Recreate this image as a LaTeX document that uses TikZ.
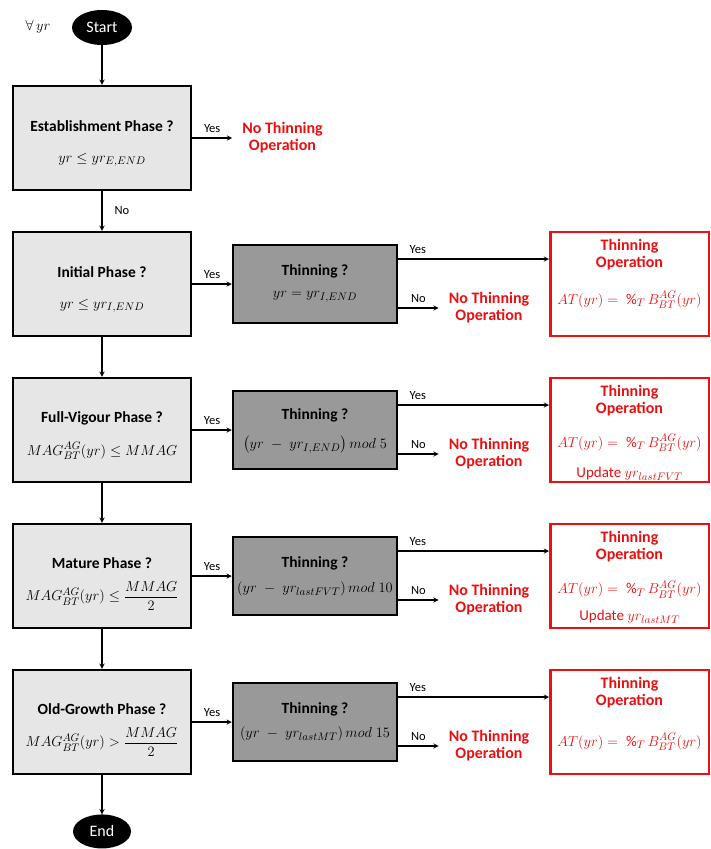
\documentclass[tikz,border=0pt]{standalone}
\usepackage{fontspec}
\setmainfont{Carlito}
\usepackage{amsmath}
\usepackage{tikz}
\usetikzlibrary{shapes.geometric, arrows, positioning, calc}

\definecolor{opred}{RGB}{232,16,16}
\definecolor{phasegray}{RGB}{231,230,230}
\definecolor{thingray}{RGB}{153,153,153}

\begin{document}
\begin{tikzpicture}[
        x=1pt, y=-1pt,
        node distance=39.5pt and 39.5pt,
        phase/.style={rectangle, draw, line width=2.5pt, fill=phasegray, minimum width=178pt, minimum height=104pt, inner sep=0pt},
        thin/.style={rectangle, draw, line width=2.5pt, fill=thingray, minimum width=164pt, minimum height=78pt, inner sep=0pt},
        oper/.style={rectangle, draw=opred, line width=2.5pt, fill=white, minimum width=158.5pt, minimum height=104pt, inner sep=0pt},
        term/.style={ellipse, fill=black, text=white, minimum width=60pt, minimum height=35pt, inner sep=0pt, font=\fontsize{16}{18}\selectfont},
        ttl/.style={font=\fontsize{15.5}{17}\selectfont\bfseries, inner sep=1pt},
        frm/.style={font=\fontsize{15}{17}\selectfont, inner sep=1pt},
        redttl/.style={font=\fontsize{16}{17}\selectfont\bfseries, text=opred, align=center, inner sep=1pt},
        redfrm/.style={frm, text=opred},
        notext/.style={font=\fontsize{16}{17}\selectfont\bfseries, text=opred, align=center, inner xsep=10pt, inner ysep=1pt},
        arrow/.style={->, line width=1.3pt, >=stealth},
        lbl/.style={font=\fontsize{12.5}{14}\selectfont, inner sep=1pt}
    ]
        \useasboundingbox (0,0) rectangle (710,849);

        % Start
        \node[term] (start) at (102,27.5) {Start};
        \node[frm] (forall) at (38,27) {$\forall\, yr$};

        % Column 1: phases
        \node[phase] (est) at (102,138) {};
        \node[phase, below=of est] (init) {};
        \node[phase, below=of init] (fv) {};
        \node[phase, below=of fv] (mat) {};
        \node[phase, below=of mat] (old) {};
        \node[term, below=39pt of old, minimum width=58pt, minimum height=34pt] (end) {End};

        \node[ttl] (est-q) at ($(est.center)+(0,-12)$) {Establishment Phase ?};
        \node[frm] (est-c) at ($(est.center)+(0,22)$) {$yr \le yr_{E,END}$};
        \node[ttl] (init-q) at ($(init.center)+(0,-12)$) {Initial Phase ?};
        \node[frm] (init-c) at ($(init.center)+(0,22)$) {$yr \le yr_{I,END}$};
        \node[ttl] (fv-q) at ($(fv.center)+(0,-12)$) {Full-Vigour Phase ?};
        \node[frm] (fv-c) at ($(fv.center)+(0,21)$) {$MAG^{AG}_{BT}(yr) \le MMAG$};
        \node[ttl] (mat-q) at ($(mat.center)+(0,-13)$) {Mature Phase ?};
        \node[frm] (mat-c) at ($(mat.center)+(0,20)$) {$MAG^{AG}_{BT}(yr) \le \dfrac{MMAG}{2}$};
        \node[ttl] (old-q) at ($(old.center)+(0,-13)$) {Old-Growth Phase ?};
        \node[frm] (old-c) at ($(old.center)+(0,20)$) {$MAG^{AG}_{BT}(yr) > \dfrac{MMAG}{2}$};

        % Column 2: thinning tests
        \node[thin, right=of init] (thin2) {};
        \node[thin, right=of fv] (thin3) {};
        \node[thin, right=of mat] (thin4) {};
        \node[thin, right=of old] (thin5) {};

        \node[ttl] (thin2-q) at ($(thin2.center)+(0,-13)$) {Thinning ?};
        \node[frm] (thin2-c) at ($(thin2.center)+(0,13)$) {$yr = yr_{I,END}$};
        \node[ttl] (thin3-q) at ($(thin3.center)+(0,-15)$) {Thinning ?};
        \node[frm] (thin3-c) at ($(thin3.center)+(0,15)$) {$\bigl(yr \;-\; yr_{I,END}\bigr)\, mod\; 5$};
        \node[ttl] (thin4-q) at ($(thin4.center)+(0,-13)$) {Thinning ?};
        \node[frm] (thin4-c) at ($(thin4.center)+(0,13)$) {$(yr \;-\; yr_{lastFVT})\, mod\; 10$};
        \node[ttl] (thin5-q) at ($(thin5.center)+(0,-13)$) {Thinning ?};
        \node[frm] (thin5-c) at ($(thin5.center)+(0,12)$) {$(yr \;-\; yr_{lastMT})\, mod\; 15$};

        % Column 3: thinning operations
        \node[oper, right=150.75pt of thin2] (op2) {};
        \node[oper, right=150.75pt of thin3] (op3) {};
        \node[oper, right=150.75pt of thin4] (op4) {};
        \node[oper, right=150.75pt of thin5] (op5) {};

        \node[redttl] (op2-q) at ($(op2.center)+(0,-29.5)$) {Thinning\\Operation};
        \node[redfrm] (op2-c) at ($(op2.center)+(0,16)$) {$AT(yr) =\; \%_T\, B^{AG}_{BT}(yr)$};
        \node[redttl] (op3-q) at ($(op3.center)+(0,-29.5)$) {Thinning\\Operation};
        \node[redfrm] (op3-c) at ($(op3.center)+(0,13)$) {$AT(yr) =\; \%_T\, B^{AG}_{BT}(yr)$};
        \node[redfrm] (op3-u) at ($(op3.center)+(0,44)$) {Update $yr_{lastFVT}$};
        \node[redttl] (op4-q) at ($(op4.center)+(0,-29.5)$) {Thinning\\Operation};
        \node[redfrm] (op4-c) at ($(op4.center)+(0,13.5)$) {$AT(yr) =\; \%_T\, B^{AG}_{BT}(yr)$};
        \node[redfrm] (op4-u) at ($(op4.center)+(0,41)$) {Update $yr_{lastMT}$};
        \node[redttl] (op5-q) at ($(op5.center)+(0,-29.5)$) {Thinning\\Operation};
        \node[redfrm] (op5-c) at ($(op5.center)+(0,20)$) {$AT(yr) =\; \%_T\, B^{AG}_{BT}(yr)$};

        % No thinning results
        \node[notext] (nt1) at (282.5,138) {No Thinning\\Operation};
        \node[notext] (nt2) at ($(thin2.center)+(174,24)$) {No Thinning\\Operation};
        \node[notext] (nt3) at ($(thin3.center)+(174,24)$) {No Thinning\\Operation};
        \node[notext] (nt4) at ($(thin4.center)+(174,24)$) {No Thinning\\Operation};
        \node[notext] (nt5) at ($(thin5.center)+(174,24)$) {No Thinning\\Operation};

        % Arrows - main column
        \draw[arrow] (start) -- (est);
        \draw[arrow] (est) -- node[lbl, right=11pt] {No} (init);
        \draw[arrow] (init) -- (fv);
        \draw[arrow] (fv) -- (mat);
        \draw[arrow] (mat) -- (old);
        \draw[arrow] (old) -- (end);

        % Arrows - phase to thinning
        \draw[arrow] (est.east) -- node[lbl, above=4pt] {Yes} (nt1.west);
        \draw[arrow] (init) -- node[lbl, above=4pt] {Yes} (thin2);
        \draw[arrow] (fv) -- node[lbl, above=4pt] {Yes} (thin3);
        \draw[arrow] (mat) -- node[lbl, above=4pt] {Yes} (thin4);
        \draw[arrow] (old) -- node[lbl, above=4pt] {Yes} (thin5);

        % Arrows - thinning to operation
        \draw[arrow] ([yshift=25pt]thin2.east) -- node[lbl, above=4pt, pos=0.13] {Yes} ([yshift=25pt]thin2.east -| op2.west);
        \draw[arrow] ([yshift=25pt]thin3.east) -- node[lbl, above=4pt, pos=0.13] {Yes} ([yshift=25pt]thin3.east -| op3.west);
        \draw[arrow] ([yshift=25pt]thin4.east) -- node[lbl, above=4pt, pos=0.13] {Yes} ([yshift=25pt]thin4.east -| op4.west);
        \draw[arrow] ([yshift=25pt]thin5.east) -- node[lbl, above=4pt, pos=0.13] {Yes} ([yshift=25pt]thin5.east -| op5.west);

        % Arrows - thinning to no thinning
        \draw[arrow] (thin2.east |- nt2.west) -- node[lbl, above=4pt] {No} (nt2.west);
        \draw[arrow] (thin3.east |- nt3.west) -- node[lbl, above=4pt] {No} (nt3.west);
        \draw[arrow] (thin4.east |- nt4.west) -- node[lbl, above=4pt] {No} (nt4.west);
        \draw[arrow] (thin5.east |- nt5.west) -- node[lbl, above=4pt] {No} (nt5.west);

    \end{tikzpicture}
\end{document}
